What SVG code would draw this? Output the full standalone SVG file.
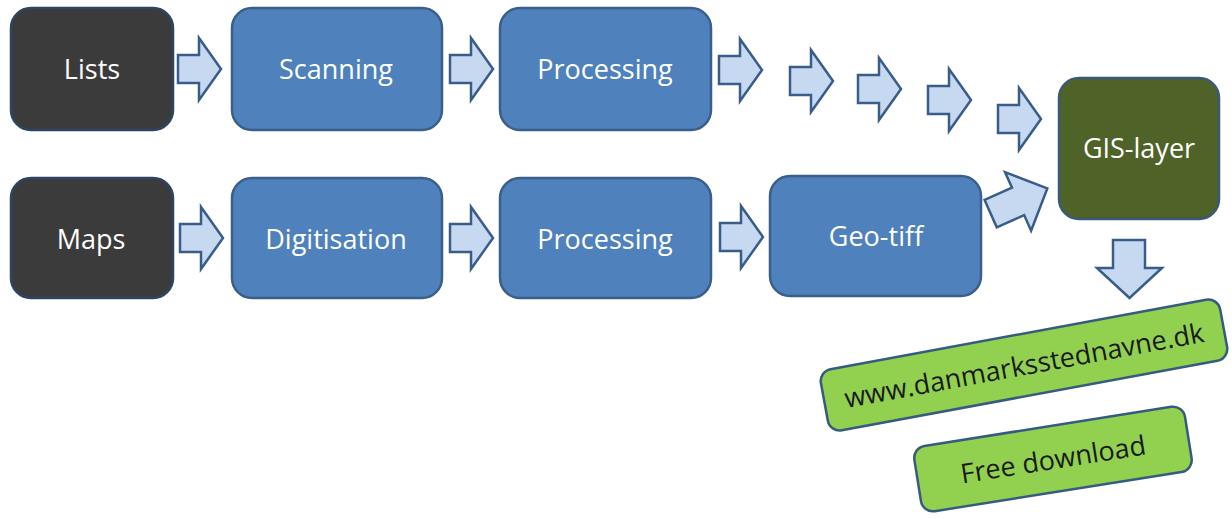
<svg xmlns="http://www.w3.org/2000/svg" width="1232" height="519" viewBox="0 0 1232 519">
<style>
.dark{fill:#3b3b3b;stroke:#2b4563;stroke-width:2.5}
.blue{fill:#4f81bd;stroke:#3a5f8b;stroke-width:2.5}
.olive{fill:#4f6228;stroke:#3a5a78;stroke-width:2.5}
.green{fill:#92d050;stroke:#375a7f;stroke-width:2.5}
.arr{fill:#c6d9f1;stroke:#385d8a;stroke-width:2.5;stroke-linejoin:miter}
.t{font-family:"Open Sans","Liberation Sans",sans-serif;font-size:27px;fill:#ffffff;text-anchor:middle}
.g{font-family:"Open Sans","Liberation Sans",sans-serif;font-size:27px;fill:#1a1a1a;text-anchor:middle}
</style>
<defs>
<path id="ha" d="M0,-14 H21 V-31 L43,0 L21,31 V14 H0 Z"/>
</defs>
<rect width="1232" height="519" fill="#ffffff"/>
<g id="connectors">
<use href="#ha" class="arr" x="178" y="69"/>
<use href="#ha" class="arr" x="450" y="69"/>
<use href="#ha" class="arr" x="719" y="70"/>
<use href="#ha" class="arr" x="790" y="81"/>
<use href="#ha" class="arr" x="858" y="89"/>
<use href="#ha" class="arr" x="928" y="100"/>
<use href="#ha" class="arr" x="998" y="119"/>
<use href="#ha" class="arr" x="180" y="238"/>
<use href="#ha" class="arr" x="450" y="238"/>
<use href="#ha" class="arr" x="720" y="237"/>
<path class="arr" transform="translate(1019,201) rotate(-24)" d="M-31,-15 H-1 V-32 L31,0 L-1,32 V15 H-31 Z"/>
<path class="arr" d="M1113,240 H1145 V268 H1162 L1129.5,298 L1097,268 H1113 Z"/>
</g>
<g id="lists"><rect class="dark" x="11" y="8" width="162" height="122" rx="20"/><text class="t" x="92" y="79">Lists</text></g>
<g id="scanning"><rect class="blue" x="232" y="8" width="210" height="122" rx="20"/><text class="t" x="336" y="79">Scanning</text></g>
<g id="processing1"><rect class="blue" x="500" y="8" width="211" height="122" rx="20"/><text class="t" x="605" y="79">Processing</text></g>
<g id="maps"><rect class="dark" x="11" y="178" width="162" height="120" rx="20"/><text class="t" x="91" y="249">Maps</text></g>
<g id="digitisation"><rect class="blue" x="232" y="178" width="210" height="120" rx="20"/><text class="t" x="336" y="249">Digitisation</text></g>
<g id="processing2"><rect class="blue" x="500" y="178" width="211" height="120" rx="20"/><text class="t" x="605" y="249">Processing</text></g>
<g id="geotiff"><rect class="blue" x="770" y="176" width="211" height="120" rx="20"/><text class="t" x="876" y="246">Geo-tiff</text></g>
<g id="gislayer"><rect class="olive" x="1059" y="78" width="160" height="141" rx="20"/><text class="t" x="1139" y="158">GIS-layer</text></g>
<g id="website" transform="translate(1024,365) rotate(-10.5)"><rect class="green" x="-203" y="-31" width="406" height="62" rx="12"/><text class="g" x="0" y="10">www.danmarksstednavne.dk</text></g>
<g id="freedownload" transform="translate(1053,459) rotate(-9)"><rect class="green" x="-137" y="-33" width="274" height="66" rx="12"/><text class="g" x="0" y="10">Free download</text></g>
</svg>
